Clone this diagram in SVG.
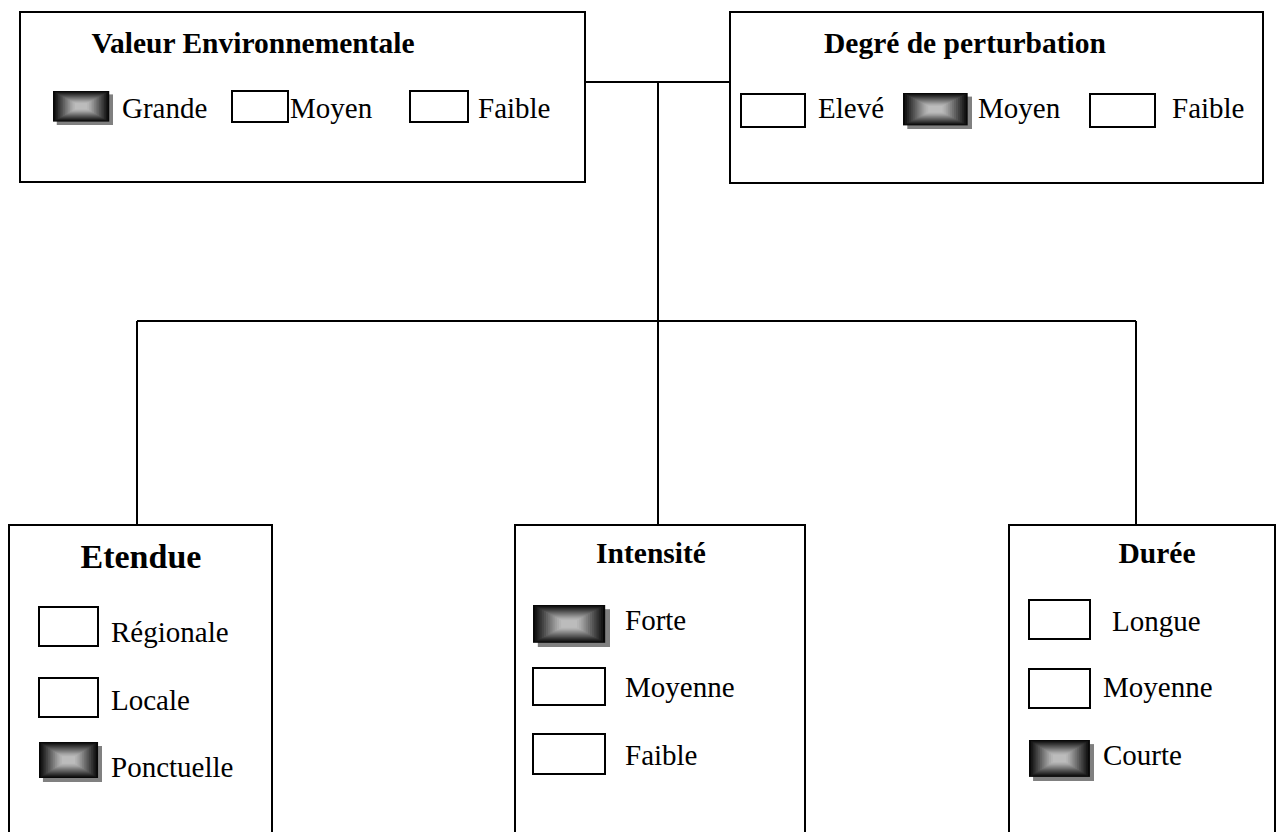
<svg xmlns="http://www.w3.org/2000/svg" xmlns:xlink="http://www.w3.org/1999/xlink" width="1280" height="832" viewBox="0 0 1280 832">
<style>
.box{fill:#fff;stroke:#000;stroke-width:2}
.cb{fill:#fff;stroke:#000;stroke-width:2}
.ln{fill:none;stroke:#000;stroke-width:2}
.t{font-family:"Liberation Serif","Times New Roman",serif;font-size:29px;fill:#000}
.h{font-family:"Liberation Serif","Times New Roman",serif;font-size:29.5px;font-weight:bold;fill:#000}
</style>
<defs>
<symbol id="shaded" viewBox="0 0 64 40" preserveAspectRatio="none">
<rect x="4" y="4" width="60" height="36" fill="#808080"/>
<rect x="0" y="0" width="60" height="36" fill="#080808"/>
<rect x="1.8" y="1.1" width="56.4" height="33.8" fill="#161616"/>
<rect x="3.6" y="2.2" width="52.8" height="31.6" fill="#252525"/>
<rect x="5.4" y="3.3" width="49.2" height="29.4" fill="#343434"/>
<rect x="7.2" y="4.4" width="45.6" height="27.2" fill="#434343"/>
<rect x="9" y="5.5" width="42" height="25" fill="#525252"/>
<rect x="10.8" y="6.6" width="38.4" height="22.8" fill="#616161"/>
<rect x="12.6" y="7.7" width="34.8" height="20.6" fill="#707070"/>
<rect x="14.4" y="8.8" width="31.2" height="18.4" fill="#7f7f7f"/>
<rect x="16.2" y="9.9" width="27.6" height="16.2" fill="#8e8e8e"/>
<rect x="18" y="11" width="24" height="14" fill="#9d9d9d"/>
<rect x="19.8" y="12.1" width="20.4" height="11.8" fill="#aaaaaa"/>
<rect x="21.6" y="13.2" width="16.8" height="9.6" fill="#b4b4b4"/>
<rect x="23.4" y="14.3" width="13.2" height="7.4" fill="#bcbcbc"/>
</symbol>
</defs>

<g id="connectors">
<line class="ln" x1="585" y1="82" x2="730" y2="82"/>
<line class="ln" x1="658" y1="82" x2="658" y2="525"/>
<line class="ln" x1="137" y1="321" x2="1136" y2="321"/>
<line class="ln" x1="137" y1="321" x2="137" y2="525"/>
<line class="ln" x1="1136" y1="321" x2="1136" y2="525"/>
</g>

<g id="valeur">
<rect class="box" x="20" y="12" width="565" height="170"/>
<text class="h" x="253" y="53" text-anchor="middle">Valeur Environnementale</text>
<use xlink:href="#shaded" x="53" y="91" width="60" height="34"/>
<text class="t" x="122" y="118">Grande</text>
<rect class="cb" x="232" y="91" width="56" height="31"/>
<text class="t" x="290" y="118">Moyen</text>
<rect class="cb" x="410" y="91" width="58" height="31"/>
<text class="t" x="478" y="118">Faible</text>
</g>

<g id="degre">
<rect class="box" x="730" y="12" width="533" height="171"/>
<text class="h" x="824" y="53">Degré de perturbation</text>
<rect class="cb" x="741" y="94" width="64" height="33"/>
<text class="t" x="818" y="118">Elevé</text>
<use xlink:href="#shaded" x="903" y="93" width="69" height="36"/>
<text class="t" x="978" y="118">Moyen</text>
<rect class="cb" x="1090" y="94" width="65" height="33"/>
<text class="t" x="1172" y="118">Faible</text>
</g>

<g id="etendue">
<rect class="box" x="9" y="525" width="263" height="320"/>
<text class="h" x="141" y="568" text-anchor="middle" style="font-size:34px">Etendue</text>
<rect class="cb" x="39" y="607" width="59" height="39"/>
<text class="t" x="111" y="642">Régionale</text>
<rect class="cb" x="39" y="678" width="59" height="39"/>
<text class="t" x="111" y="710">Locale</text>
<use xlink:href="#shaded" x="39" y="742" width="63" height="40"/>
<text class="t" x="111" y="777">Ponctuelle</text>
</g>

<g id="intensite">
<rect class="box" x="515" y="525" width="290" height="320"/>
<text class="h" x="651" y="563" text-anchor="middle">Intensité</text>
<use xlink:href="#shaded" x="533" y="605" width="77" height="42"/>
<text class="t" x="625" y="630">Forte</text>
<rect class="cb" x="533" y="668" width="72" height="37"/>
<text class="t" x="625" y="697">Moyenne</text>
<rect class="cb" x="533" y="734" width="72" height="40"/>
<text class="t" x="625" y="765">Faible</text>
</g>

<g id="duree">
<rect class="box" x="1009" y="525" width="266" height="320"/>
<text class="h" x="1157" y="563" text-anchor="middle">Durée</text>
<rect class="cb" x="1029" y="600" width="61" height="39"/>
<text class="t" x="1112" y="631">Longue</text>
<rect class="cb" x="1029" y="669" width="61" height="39"/>
<text class="t" x="1103" y="697">Moyenne</text>
<use xlink:href="#shaded" x="1029" y="740" width="65" height="41"/>
<text class="t" x="1103" y="765">Courte</text>
</g>
</svg>
